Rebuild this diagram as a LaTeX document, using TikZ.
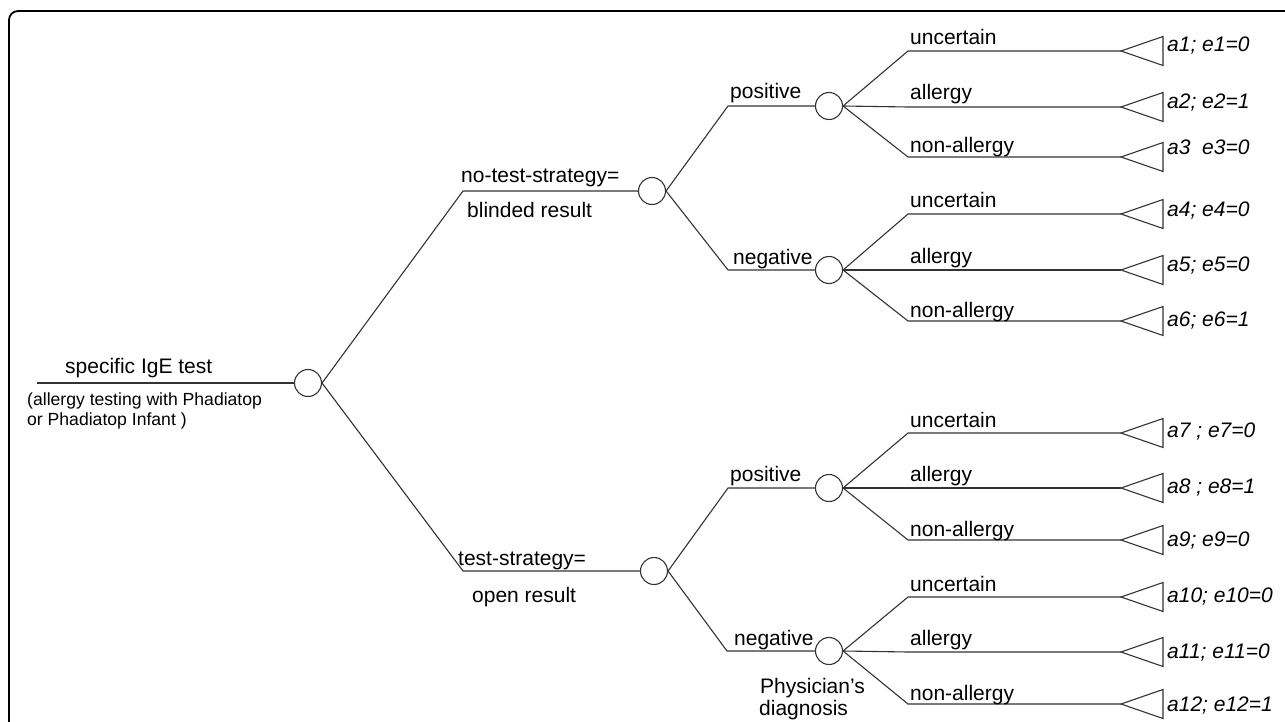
\documentclass[tikz,border=0pt]{standalone}
\usepackage{fontspec}
\setmainfont{Liberation Sans}
\begin{document}
\begin{tikzpicture}[x=1pt,y=-1pt,
  ln/.style={draw=black!80, line width=1.1pt},
  chance/.style={circle, draw=black!80, line width=1.1pt, minimum size=27pt, inner sep=0pt},
  lbl/.style={inner sep=0pt, anchor=base west, font=\fontsize{21}{24}\selectfont},
  small/.style={inner sep=0pt, anchor=base west, font=\fontsize{17.6}{20}\selectfont},
  term/.style={inner sep=0pt, anchor=west, font=\fontsize{21}{24}\selectfont\itshape},
  frame/.style={draw=black, line width=1.8pt, rounded corners=9pt}]
\useasboundingbox (0,0) rectangle (1285,722);
\draw[frame] (9,760) -- (9,11) -- (1320,11);

% root
\coordinate (rootL) at (37,383);
\node[chance] (c0) at (308,383) {};
\draw[ln] (rootL) -- (c0);
\node[lbl] (tRoot) at (65,373) {specific IgE test};
\node[small] (tRoot2) at (27,405) {(allergy testing with Phadiatop};
\node[small] (tRoot3) at (27,425) {or Phadiatop Infant )};

% strategies
\coordinate (b1) at (463,191);
\coordinate (b2) at (463,571);
\node[chance] (c1) at (652,191) {};
\node[chance] (c2) at (654,571) {};
\draw[ln] (c0.east) -- (b1) -- (c1);
\draw[ln] (c0.east) -- (b2) -- (c2);
\node[lbl] (tB1a) at (461,183) {no-test-strategy=};
\node[lbl] (tB1b) at (467,218) {blinded result};
\node[lbl] (tB2a) at (458,565) {test-strategy=};
\node[lbl] (tB2b) at (472,602) {open result};

% test results
\coordinate (p1) at (728,106);
\coordinate (n1) at (728,270);
\coordinate (p2) at (728,488);
\coordinate (n2) at (727,651);
\node[chance] (c11) at (829,106) {};
\node[chance] (c12) at (829,270) {};
\node[chance] (c21) at (829,488) {};
\node[chance] (c22) at (829,651) {};
\draw[ln] (c1.east) -- (p1) -- (c11);
\draw[ln] (c1.east) -- (n1) -- (c12);
\draw[ln] (c2.east) -- (p2) -- (c21);
\draw[ln] (c2.east) -- (n2) -- (c22);
\node[lbl] (tP1) at (730,99) {positive};
\node[lbl] (tN1) at (733,264) {negative};
\node[lbl] (tP2) at (730,481) {positive};
\node[lbl] (tN2) at (734,645) {negative};
\node[lbl] (tPh1) at (760,693) {Physician’s};
\node[lbl] (tPh2) at (759,715) {diagnosis};

% outcomes
\foreach \p/\y/\lab/\dy/\a/\ay [count=\i] in {
  c11/51/uncertain/6/{a1; e1=0}/46,
  c11/107/allergy/7/{a2; e2=1}/103,
  c11/157/non-allergy/4/{a3\ \ e3=0}/147,
  c12/214/uncertain/6/{a4; e4=0}/211,
  c12/270/allergy/7/{a5; e5=0}/266,
  c12/321/non-allergy/4/{a6; e6=1}/321,
  c21/433/uncertain/6/{a7 ; e7=0}/432,
  c21/488/allergy/7/{a8 ; e8=1}/488,
  c21/540/non-allergy/4/{a9; e9=0}/541,
  c22/597/uncertain/6/{a10; e10=0}/597,
  c22/652/allergy/7/{a11; e11=0}/653,
  c22/704/non-allergy/4/{a12; e12=1}/706} {
  \coordinate (s\i) at (908,\y);
  \coordinate (t\i) at (1121,\y);
  \draw[ln] (\p.east) -- (s\i) -- (t\i);
  \draw[ln] (t\i) -- ++(42,-14.5) -- ++(0,29) -- cycle;
  \node[lbl] (o\i) at (910,\y-\dy) {\lab};
  \node[term] (a\i) at (1167,\ay) {\a};
}
\end{tikzpicture}
\end{document}
